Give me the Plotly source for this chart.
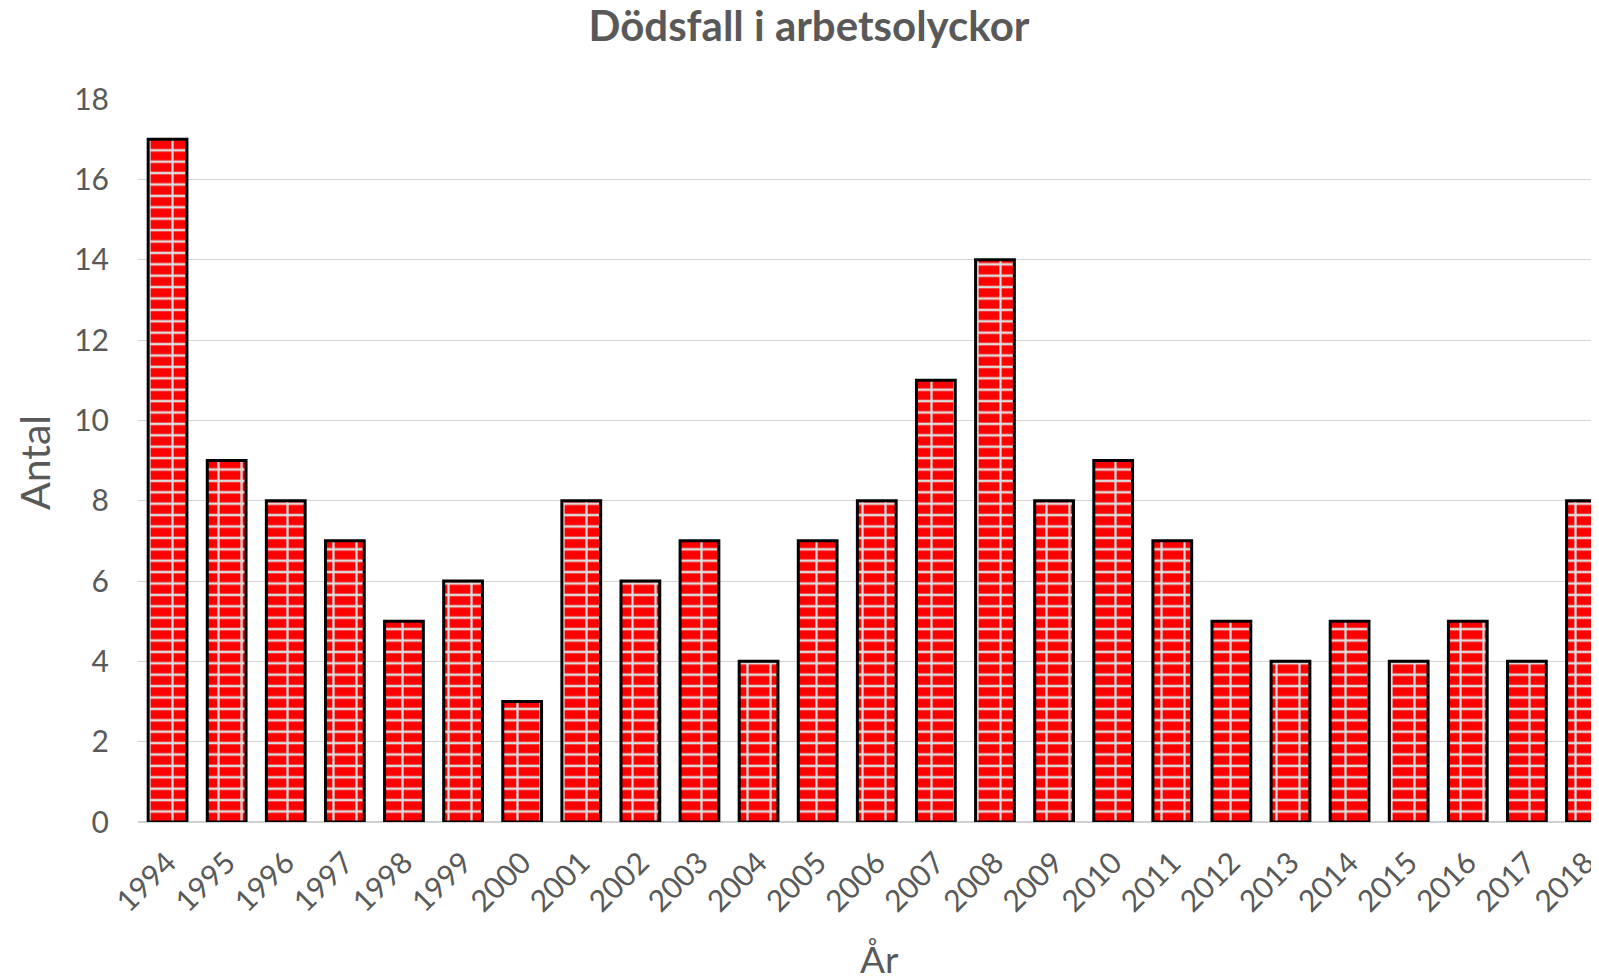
import plotly.graph_objects as go

years = [str(y) for y in range(1994, 2019)]
deaths = [17, 9, 8, 7, 5, 6, 3, 8, 6, 7, 4, 7, 8, 11, 14, 8, 9, 7, 5, 4, 5, 4, 5, 4, 8]

title_text = "Dödsfall i arbetsolyckor"
x_title = "År"
y_title = "Antal"
y_ticks = [0, 2, 4, 6, 8, 10, 12, 14, 16, 18]

FONT = "Lato, 'Open Sans', sans-serif"
GREY = "#595959"
BRICK = "#ff0000"
MORTAR = "#dcdcdc"

W, H = 1591, 972          # page body has an 8px margin
L, T, B = 130, 91, 158
PW, PH = W - L, H - T - B

fig = go.Figure()
# horizontal mortar rows on red
fig.add_trace(go.Bar(
    x=years, y=deaths,
    marker=dict(color=BRICK, line=dict(width=0),
                pattern=dict(shape="-", size=11.4, solidity=0.22,
                             fgcolor=MORTAR, bgcolor=BRICK, fillmode="replace")),
    hoverinfo="skip", showlegend=False,
))
# vertical joints + outline on top
fig.add_trace(go.Bar(
    x=years, y=deaths,
    marker=dict(color="rgba(0,0,0,0)", line=dict(width=3, color="black"),
                pattern=dict(shape="|", size=23, solidity=0.1,
                             fgcolor=MORTAR, bgcolor="rgba(0,0,0,0)", fillmode="replace")),
    showlegend=False,
))

fig.update_layout(
    width=W, height=H,
    margin=dict(l=L, r=0, t=T, b=B, autoexpand=False),
    paper_bgcolor="white", plot_bgcolor="white",
    barmode="overlay", bargap=0.344,
    font=dict(family=FONT, color=GREY),
    title=dict(text="<b>" + title_text + "</b>", x=801 / W, xref="container", xanchor="center",
               y=0.981, yref="container", yanchor="middle",
               font=dict(family=FONT, size=42, color=GREY)),
    xaxis=dict(
        type="category", range=[-0.5, 24.22], automargin=False,
        tickangle=-45, tickfont=dict(size=30, color=GREY),
        showgrid=False, showline=False, ticks="", ticklabelstandoff=16,
    ),
    yaxis=dict(
        range=[0, 18], tickvals=y_ticks, tickfont=dict(size=30, color=GREY),
        automargin=False,
        showgrid=True, gridcolor="#d4d4d4", gridwidth=1.3,
        zeroline=True, zerolinecolor="#d0d0d0", zerolinewidth=1.5,
        showline=False, ticks="", ticklabelstandoff=28,
    ),
    annotations=[
        dict(text=y_title, xref="paper", yref="paper", x=(26 - L) / PW, y=(T + PH - 454) / PH,
             xanchor="center", yanchor="middle", textangle=-90, showarrow=False,
             font=dict(family=FONT, size=41, color=GREY)),
        dict(text=x_title, xref="paper", yref="paper", x=(871 - L) / PW, y=-(950 - T - PH) / PH,
             xanchor="center", yanchor="middle", showarrow=False,
             font=dict(family=FONT, size=37, color=GREY)),
    ],
)

fig.write_html("out.html")
